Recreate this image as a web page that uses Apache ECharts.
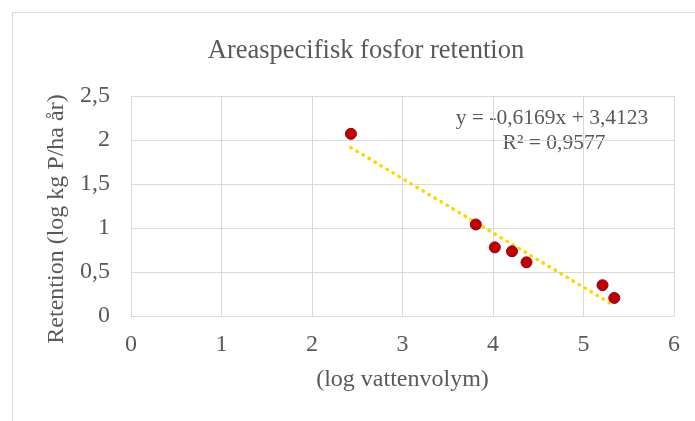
<!DOCTYPE html>
<html><head><meta charset="utf-8">
<script src="https://cdn.jsdelivr.net/npm/echarts@6/dist/echarts.min.js"></script>
<style>html,body{margin:0;padding:0;background:#fff}#c{width:695px;height:421px}</style>
</head><body><div id="c"></div>
<script>
const titleText = "Areaspecifisk fosfor retention";
const xName = "(log vattenvolym)";
const yName = "Retention (log kg P/ha år)";
const xValues = [2.43, 3.81, 4.02, 4.21, 4.37, 5.21, 5.34];
const yValues = [2.07, 1.04, 0.78, 0.735, 0.61, 0.35, 0.205];
const trendX = [2.43, 5.34];
const trendY = [1.913, 0.118];
const equationText = "y = -0,6169x + 3,4123";
const r2Text = "R² = 0,9577";

const font = "'Liberation Serif', 'Times New Roman', serif";
const grey = "#595959";
const chart = echarts.init(document.getElementById('c'), null, {renderer: 'canvas'});
chart.setOption({
  animation: false,
  backgroundColor: '#fff',
  title: {text: titleText, left: 361, top: 33, textAlign: 'center',
    textStyle: {fontFamily: font, fontSize: 26.5, fontWeight: 'normal', color: grey}},
  grid: {left: 131, right: 21, top: 96, bottom: 105},
  xAxis: {type: 'value', min: 0, max: 6, interval: 1,
    name: xName, nameLocation: 'middle', nameGap: 52,
    nameTextStyle: {fontFamily: font, fontSize: 24, color: grey},
    axisLine: {show: true, lineStyle: {color: '#d9d9d9'}}, axisTick: {show: false},
    axisLabel: {fontFamily: font, fontSize: 24, color: grey, margin: 17},
    splitLine: {show: true, lineStyle: {color: '#d9d9d9'}}},
  yAxis: {type: 'value', min: 0, max: 2.5, interval: 0.5,
    name: yName, nameLocation: 'middle', nameGap: 56,
    nameTextStyle: {fontFamily: font, fontSize: 24, color: grey, padding: [0, 26, 0, 0]},
    axisLine: {show: true, lineStyle: {color: '#d9d9d9'}}, axisTick: {show: false},
    axisLabel: {fontFamily: font, fontSize: 24, color: grey, margin: 21,
      formatter: v => String(v).replace('.', ',')},
    splitLine: {show: true, lineStyle: {color: '#d9d9d9'}}},
  graphic: [
    {type: 'rect', silent: true, z: -10, shape: {x: 12.5, y: 12.5, width: 720, height: 440},
      style: {fill: null, stroke: '#d9d9d9', lineWidth: 1}},
    {type: 'text', x: 552, y: 118, style: {text: equationText, font: "21.5px " + font, fill: grey, align: 'center', verticalAlign: 'middle'}},
    {type: 'text', x: 554, y: 143, style: {text: r2Text, font: "21.5px " + font, fill: grey, align: 'center', verticalAlign: 'middle'}}
  ],
  series: [
    {type: 'line', data: trendX.map((x, i) => [x, trendY[i]]), symbol: 'none', z: 1,
      lineStyle: {color: '#FFD700', width: 3.5, type: [0.5, 6.5], cap: 'round'}},
    {type: 'scatter', data: xValues.map((x, i) => [x, yValues[i]]), symbolSize: 11, z: 2,
      itemStyle: {color: '#C00000', borderColor: '#8B0020', borderWidth: 1, opacity: 1}}
  ]
});
</script></body></html>
